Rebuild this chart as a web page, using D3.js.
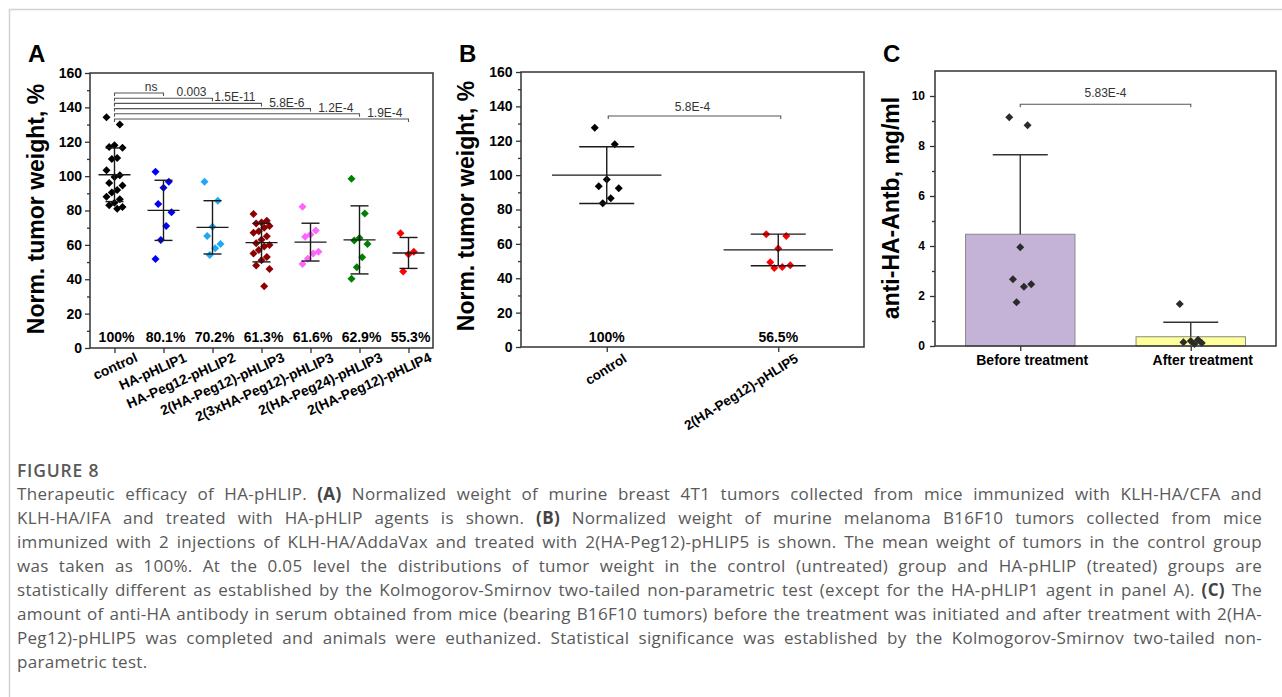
<!DOCTYPE html>
<html>
<head>
<meta charset="utf-8">
<script src="https://d3js.org/d3.v7.min.js"></script>
<style>
  body { margin: 0; background: #fff; }
  svg { position: absolute; left: 0; top: 0; }
  .cap { position: absolute; left: 17px; font-family: "Open Sans", sans-serif; font-size: 17px; letter-spacing: 0.3px; color: #595959; }
  .cap div { height: 24px; line-height: 24px; white-space: nowrap; }
  .cap .head { font-weight: 600; font-size: 17.5px; letter-spacing: 0.8px; }
  .cap b { font-weight: 700; color: #444; }
</style>
</head>
<body>
<script>
// ---- panel A data ----
var groupsA = ["control", "HA-pHLIP1", "HA-Peg12-pHLIP2", "2(HA-Peg12)-pHLIP3",
  "2(3xHA-Peg12)-pHLIP3", "2(HA-Peg24)-pHLIP3", "2(HA-Peg12)-pHLIP4"];
var pointsA = [
  [134.2, 130.1, 118, 117, 116.5, 110.5, 110, 103.4, 100.5, 99.5, 96, 94.5, 92, 90.5, 88, 86.5, 84.5, 83, 82, 81],
  [102.6, 96.8, 93.3, 83.8, 79, 71, 62.8, 51.8],
  [96.8, 85.7, 70.6, 65.2, 60.5, 58, 54.1],
  [78, 74, 73, 72.5, 71, 70, 68, 67, 65, 63, 61, 60, 59, 57, 55, 53, 51, 48, 46, 36],
  [82.2, 68.3, 66, 64.8, 56, 55, 52, 48.9],
  [98.5, 78.2, 64, 62.5, 60.5, 52.8, 47, 40.3],
  [66.7, 56, 54.5, 44.5]
];
var meanA = [100.8, 80.1, 70.2, 61.3, 61.6, 62.9, 55.3];
var sdA = [15.6, 17.5, 15.5, 11.2, 11, 19.8, 9];
var pctA = ["100%", "80.1%", "70.2%", "61.3%", "61.6%", "62.9%", "55.3%"];
var pValuesA = ["ns", "0.003", "1.5E-11", "5.8E-6", "1.2E-4", "1.9E-4"];
var ticksA = [0, 20, 40, 60, 80, 100, 120, 140, 160];

// ---- panel B data ----
var groupsB = ["control", "2(HA-Peg12)-pHLIP5"];
var pointsB = [
  [127.5, 118, 97.5, 93.6, 92.3, 86.5, 83.6],
  [65.6, 64.6, 57.3, 49.3, 47.5, 46.5, 46]
];
var meanB = [100, 56.5];
var sdB = [16.5, 9.2];
var pctB = ["100%", "56.5%"];
var pValueB = "5.8E-4";

// ---- panel C data ----
var groupsC = ["Before treatment", "After treatment"];
var pointsC = [
  [9.15, 8.83, 3.95, 2.67, 2.47, 2.37, 1.75],
  [1.68, 0.25, 0.2, 0.15, 0.12, 0.08]
];
var meanC = [4.47, 0.37];
var sdC = [3.18, 0.58];
var pValueC = "5.83E-4";
var ticksC = [0, 2, 4, 6, 8, 10];

var captionLines = [
  "Therapeutic efficacy of HA-pHLIP. <b>(A)</b> Normalized weight of murine breast 4T1 tumors collected from mice immunized with KLH-HA/CFA and",
  "KLH-HA/IFA and treated with HA-pHLIP agents is shown. <b>(B)</b> Normalized weight of murine melanoma B16F10 tumors collected from mice",
  "immunized with 2 injections of KLH-HA/AddaVax and treated with 2(HA-Peg12)-pHLIP5 is shown. The mean weight of tumors in the control group",
  "was taken as 100%. At the 0.05 level the distributions of tumor weight in the control (untreated) group and HA-pHLIP (treated) groups are",
  "statistically different as established by the Kolmogorov-Smirnov two-tailed non-parametric test (except for the HA-pHLIP1 agent in panel A). <b>(C)</b> The",
  "amount of anti-HA antibody in serum obtained from mice (bearing B16F10 tumors) before the treatment was initiated and after treatment with 2(HA-",
  "Peg12)-pHLIP5 was completed and animals were euthanized. Statistical significance was established by the Kolmogorov-Smirnov two-tailed non-",
  "parametric test."
];

// ---- drawing ----
var FONT = "'Liberation Sans', Arial, sans-serif";
var AX = "#333";
var colorsA = ["#000000", "#0000ff", "#1fa9f4", "#8b0000", "#ff66ff", "#008000", "#ff0000"];

var svg = d3.select("body").append("svg")
  .attr("width", 1282).attr("height", 697)
  .style("font-family", FONT);

// page frame
svg.append("line").attr("x1", 9).attr("x2", 1282).attr("y1", 9.5).attr("y2", 9.5)
  .attr("stroke", "#d2d2d2").attr("stroke-width", 1.5);
svg.append("line").attr("x1", 9.5).attr("x2", 9.5).attr("y1", 9).attr("y2", 697)
  .attr("stroke", "#d2d2d2").attr("stroke-width", 1.5);

var diamond = d3.symbol(d3.symbolSquare, 32)();
function jitter(i, w) { return ((i * 5) % 7 - 3) / 3 * w; }

function frame(g, x0, x1, y0, y1) {
  g.append("rect").attr("x", x0).attr("y", y0).attr("width", x1 - x0).attr("height", y1 - y0)
    .attr("fill", "none").attr("stroke", AX).attr("stroke-width", 1.5);
}

function leftAxis(g, y, x0, major, minor, fs, pad) {
  var a = g.append("g").attr("transform", "translate(" + x0 + ",0)")
    .call(d3.axisLeft(y).tickValues(minor).tickSize(3).tickFormat(""));
  a.select(".domain").remove();
  var b = g.append("g").attr("transform", "translate(" + x0 + ",0)")
    .call(d3.axisLeft(y).tickValues(major).tickSize(5).tickPadding(pad));
  b.select(".domain").remove();
  g.selectAll(".tick line").attr("stroke", AX).attr("stroke-width", 1.3);
  b.selectAll("text").attr("font-family", FONT).attr("font-size", fs)
    .attr("font-weight", "bold").attr("fill", "#000");
}

function bottomTicks(g, x, y0) {
  var a = g.append("g").attr("transform", "translate(0," + y0 + ")")
    .call(d3.axisBottom(x).tickSize(5).tickFormat(""));
  a.select(".domain").remove();
  a.selectAll(".tick line").attr("stroke", AX).attr("stroke-width", 1.3);
}

function yTitle(g, text, x, y) {
  g.append("text").attr("transform", "translate(" + x + "," + y + ") rotate(-90)")
    .attr("text-anchor", "middle").attr("font-size", 23).attr("font-weight", "bold").text(text);
}

function panelLetter(g, text, x) {
  g.append("text").attr("x", x).attr("y", 62).attr("font-size", 24)
    .attr("font-weight", "bold").text(text);
}

function scatterGroups(g, groups, points, means, sds, x, y, colors, jw, meanHalf, capHalf) {
  groups.forEach(function(name, gi) {
    var cx = x(name);
    points[gi].forEach(function(v, i) {
      g.append("path").attr("d", diamond)
        .attr("transform", "translate(" + (cx + jitter(i, jw)) + "," + y(v) + ") rotate(45)")
        .attr("fill", colors[gi]);
    });
    var hi = y(means[gi] + sds[gi]), lo = y(means[gi] - sds[gi]), m = y(means[gi]);
    var st = function(s) { return s.attr("stroke", "#1a1a1a").attr("stroke-width", 1.4); };
    st(g.append("line").attr("x1", cx).attr("x2", cx).attr("y1", hi).attr("y2", lo));
    st(g.append("line").attr("x1", cx - capHalf).attr("x2", cx + capHalf).attr("y1", hi).attr("y2", hi));
    st(g.append("line").attr("x1", cx - capHalf).attr("x2", cx + capHalf).attr("y1", lo).attr("y2", lo));
    st(g.append("line").attr("x1", cx - meanHalf).attr("x2", cx + meanHalf).attr("y1", m).attr("y2", m));
  });
}

function bracket(g, xa, xb, yy, label, labelX, anchor, labelY) {
  g.append("path")
    .attr("d", "M" + xa + "," + (yy + 3) + "V" + yy + "H" + xb + "V" + (yy + 3))
    .attr("fill", "none").attr("stroke", "#555").attr("stroke-width", 1.1);
  g.append("text").attr("x", labelX).attr("y", labelY).attr("text-anchor", anchor)
    .attr("font-size", 12).attr("fill", "#333").text(label);
}

// ===== Panel A =====
var gA = svg.append("g");
var xA = d3.scalePoint().domain(groupsA).range([90, 433]).padding(0.5);
var yA = d3.scaleLinear().domain([0, 160]).range([348, 73]);
panelLetter(gA, "A", 28);
leftAxis(gA, yA, 90, ticksA, d3.range(10, 160, 20), 14, 3);
bottomTicks(gA, xA, 348);
frame(gA, 90, 433, 73, 348);
yTitle(gA, "Norm. tumor weight, %", 44, 209);
scatterGroups(gA, groupsA, pointsA, meanA, sdA, xA, yA, colorsA, 8, 16, 9);
pValuesA.forEach(function(p, i) {
  var yy = 93 + i * 5.2;
  var xb = xA(groupsA[i + 1]);
  bracket(gA, xA(groupsA[0]), xb, yy, p, xb - 6, "end", yy - 2);
});
groupsA.forEach(function(name, i) {
  gA.append("text").attr("x", xA(name) + 2).attr("y", 342).attr("text-anchor", "middle")
    .attr("font-size", 14).attr("font-weight", "bold").text(pctA[i]);
  gA.append("text").attr("transform", "translate(" + (xA(name) + 24) + ",361) rotate(-24)")
    .attr("text-anchor", "end").attr("font-size", 13.8).attr("font-weight", "bold").text(name);
});

// ===== Panel B =====
var gB = svg.append("g");
var xB = d3.scalePoint().domain(groupsB).range([521, 864]).padding(0.5);
var yB = d3.scaleLinear().domain([0, 160]).range([347, 72]);
panelLetter(gB, "B", 459);
leftAxis(gB, yB, 521, ticksA, d3.range(10, 160, 20), 14, 3.5);
bottomTicks(gB, xB, 347);
frame(gB, 521, 864, 72, 347);
yTitle(gB, "Norm. tumor weight, %", 474, 206);
scatterGroups(gB, groupsB, pointsB, meanB, sdB, xB, yB, ["#000000", "#ff0000"], 12, 54.7, 27.5);
bracket(gB, xB(groupsB[0]) + 1.5, xB(groupsB[1]) + 2.5, 116, pValueB,
  (xB(groupsB[0]) + xB(groupsB[1])) / 2, "middle", 111);
groupsB.forEach(function(name, i) {
  gB.append("text").attr("x", xB(name)).attr("y", 342).attr("text-anchor", "middle")
    .attr("font-size", 14).attr("font-weight", "bold").text(pctB[i]);
  gB.append("text").attr("transform", "translate(" + (xB(name) + 21) + ",361) rotate(-32)")
    .attr("text-anchor", "end").attr("font-size", 13.5).attr("font-weight", "bold").text(name);
});

// ===== Panel C =====
var gC = svg.append("g");
var xC = d3.scalePoint().domain(groupsC).range([935, 1276]).padding(0.5);
var yC = d3.scaleLinear().domain([0, 11]).range([346, 71]);
panelLetter(gC, "C", 883);
var barFill = ["#c5b3d7", "#ffff99"];
groupsC.forEach(function(name, i) {
  var cx = xC(name);
  gC.append("rect").attr("x", cx - 54.7).attr("width", 109.4)
    .attr("y", yC(meanC[i])).attr("height", yC(0) - yC(meanC[i]))
    .attr("fill", barFill[i]).attr("stroke", "#888").attr("stroke-width", 1);
  var hi = yC(meanC[i] + sdC[i]);
  gC.append("line").attr("x1", cx).attr("x2", cx).attr("y1", yC(meanC[i])).attr("y2", hi)
    .attr("stroke", "#333").attr("stroke-width", 1.4);
  gC.append("line").attr("x1", cx - 27.5).attr("x2", cx + 27.5).attr("y1", hi).attr("y2", hi)
    .attr("stroke", "#333").attr("stroke-width", 1.4);
  pointsC[i].forEach(function(v, j) {
    gC.append("path").attr("d", diamond)
      .attr("transform", "translate(" + (cx + jitter(j, 11)) + "," + yC(v) + ") rotate(45)")
      .attr("fill", "#2b2b2b");
  });
  gC.append("text").attr("x", cx + 12).attr("y", 365).attr("text-anchor", "middle")
    .attr("font-size", 14).attr("font-weight", "bold").text(name);
});
leftAxis(gC, yC, 935, ticksC, [1, 3, 5, 7, 9], 12, 5);
bottomTicks(gC, xC, 346);
frame(gC, 935, 1276, 71, 346);
yTitle(gC, "anti-HA-Antb, mg/ml", 899, 208);
bracket(gC, xC(groupsC[0]), xC(groupsC[1]), 104.3, pValueC,
  (xC(groupsC[0]) + xC(groupsC[1])) / 2, "middle", 97);

// ===== caption =====
var cap = d3.select("body").append("div").attr("class", "cap").style("top", "458px");
cap.append("div").attr("class", "head").text("FIGURE 8");
captionLines.forEach(function(line, i) {
  var d = cap.append("div");
  var span = d.append("span").html(line);
  if (i < captionLines.length - 1) {
    var w = span.node().getBoundingClientRect().width;
    var spaces = (line.replace(/<[^>]+>/g, "").match(/ /g) || []).length;
    d.style("word-spacing", ((1245 - w) / spaces) + "px");
  }
});
</script>
</body>
</html>
